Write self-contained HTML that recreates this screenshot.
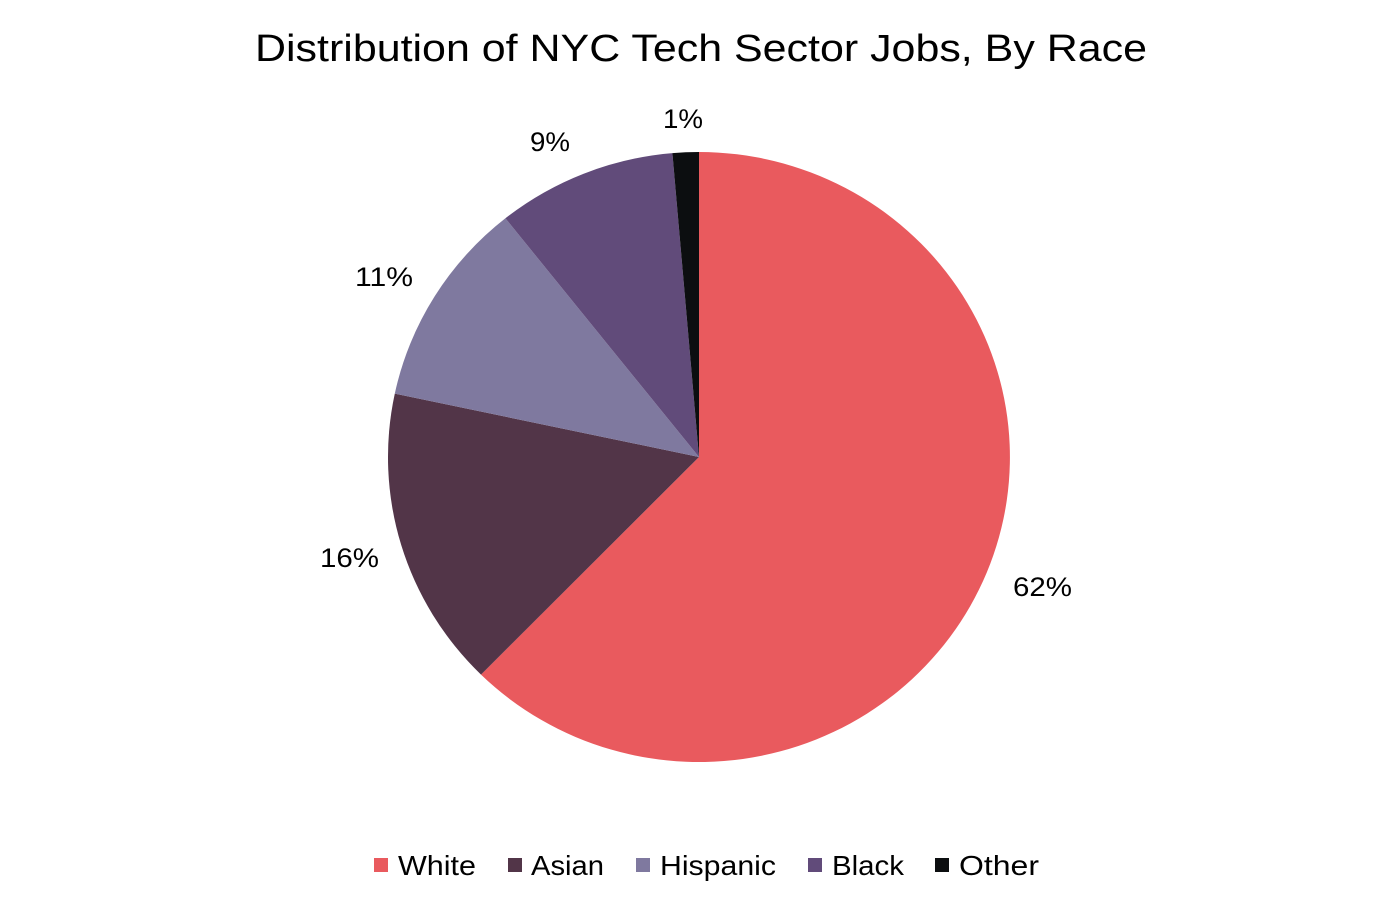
<!DOCTYPE html>
<html><head><meta charset="utf-8"><style>
html,body{margin:0;padding:0;background:#fff;}
svg{display:block;}
text{font-family:"Liberation Sans",sans-serif;fill:#000;}
</style></head><body>
<svg width="1400" height="908" viewBox="0 0 1400 908" xmlns="http://www.w3.org/2000/svg">
<text x="255" y="61" font-size="38" textLength="892" lengthAdjust="spacingAndGlyphs">Distribution of NYC Tech Sector Jobs, By Race</text>
<path d="M699,457 L699,152 A311,305 0 1,1 481,674.6 Z" fill="#E95A5E"/>
<path d="M699,457 L481,674.6 A311,305 0 0,1 394.8,393.6 Z" fill="#523548"/>
<path d="M699,457 L394.8,393.6 A311,305 0 0,1 505.4,218.3 Z" fill="#7F799F"/>
<path d="M699,457 L505.4,218.3 A311,305 0 0,1 672.4,153.1 Z" fill="#614B7A"/>
<path d="M699,457 L672.4,153.1 A311,305 0 0,1 699,152 Z" fill="#0C0E10"/>
<g font-size="27" lengthAdjust="spacingAndGlyphs">
<text x="1013" y="596" textLength="59" lengthAdjust="spacingAndGlyphs">62%</text>
<text x="320" y="567" textLength="59" lengthAdjust="spacingAndGlyphs">16%</text>
<text x="355" y="286" textLength="58" lengthAdjust="spacingAndGlyphs">11%</text>
<text x="530" y="151" textLength="40" lengthAdjust="spacingAndGlyphs">9%</text>
<text x="663" y="128" textLength="40" lengthAdjust="spacingAndGlyphs">1%</text>
</g>
<g font-size="28">
<rect x="374" y="858" width="14" height="14" fill="#E95A5E"/><text x="398" y="875" textLength="78" lengthAdjust="spacingAndGlyphs">White</text>
<rect x="508" y="858" width="14" height="14" fill="#523548"/><text x="531" y="875" textLength="73" lengthAdjust="spacingAndGlyphs">Asian</text>
<rect x="636" y="858" width="14" height="14" fill="#7F799F"/><text x="660" y="875" textLength="116" lengthAdjust="spacingAndGlyphs">Hispanic</text>
<rect x="808" y="858" width="14" height="14" fill="#614B7A"/><text x="832" y="875" textLength="72" lengthAdjust="spacingAndGlyphs">Black</text>
<rect x="935" y="858" width="14" height="14" fill="#0C0E10"/><text x="959" y="875" textLength="80" lengthAdjust="spacingAndGlyphs">Other</text>
</g>
</svg>
</body></html>
